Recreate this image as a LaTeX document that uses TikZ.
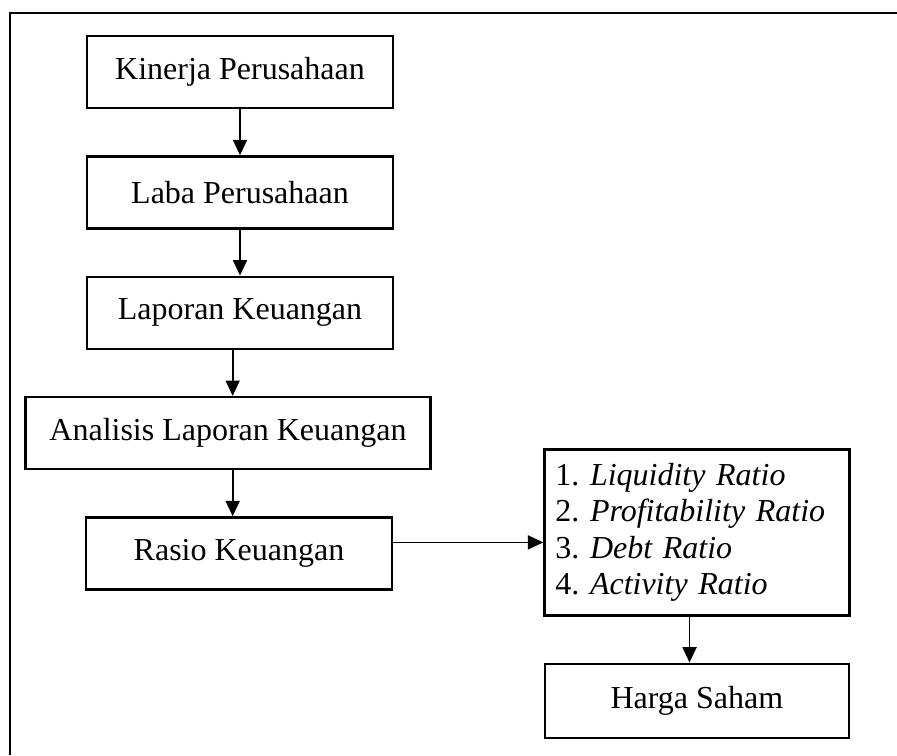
\documentclass[tikz,border=0pt]{standalone}
\usepackage{fontspec}
\setmainfont{Liberation Serif}
\usetikzlibrary{positioning,arrows.meta}

\tikzset{
  box/.style={draw, line width=2pt, minimum width=9.18cm, minimum height=2.16cm, inner sep=0pt, font=\fontsize{27.3}{31.2}\selectfont},
  link/.style={->, line width=1.5pt},
}

\begin{document}
\frenchspacing
\begin{tikzpicture}[x=0.03cm,y=-0.03cm,node distance=1.38cm,>={Triangle[length=0.46cm,width=0.42cm]}]
\useasboundingbox (0,0) rectangle (897,755);
% frame (only top and left edge show)
\draw[line width=2.4pt] (897,13) -- (10,13) -- (10,755);
\node[box] (kin) at (240,72) {Kinerja Perusahaan};
\node[box, below =of kin] (lab) {Laba Perusahaan};
\node[box, below =of lab] (lap) {Laporan Keuangan};
\node[box, minimum width=12.15cm, below =of lap, xshift=-0.36cm] (ana) {Analisis Laporan Keuangan};
\node[box, below =of ana, xshift=0.33cm] (ras) {Rasio Keuangan};
\node[box, minimum width=9.15cm, minimum height=4.98cm, text width=8.49cm, align=left, inner sep=0.33cm,
  right =4.5cm of ras, yshift=0.63cm] (rat) {1. \textit{Liquidity Ratio}\\2. \textit{Profitability Ratio}\\3. \textit{Debt Ratio}\\4. \textit{Activity Ratio}};
\node[box, minimum width=9.12cm, minimum height=2.22cm, below =1.38cm of rat] (har) {Harga Saham};
\path[link] (kin) edge (lab);
\path[link] (lab) edge (lap);
\draw[link] ([xshift=-0.22cm]lap.south) -- ([xshift=-0.22cm]lap.south |- ana.north);
\draw[link] ([xshift=0.14cm]ana.south) -- ([xshift=0.14cm]ana.south |- ras.north);
\draw[link] ([yshift=0.33cm]ras.east) -- ([yshift=0.33cm]ras.east -| rat.west);
\draw[link] ([xshift=-0.22cm]rat.south) -- ([xshift=-0.22cm]rat.south |- har.north);
\end{tikzpicture}
\end{document}
